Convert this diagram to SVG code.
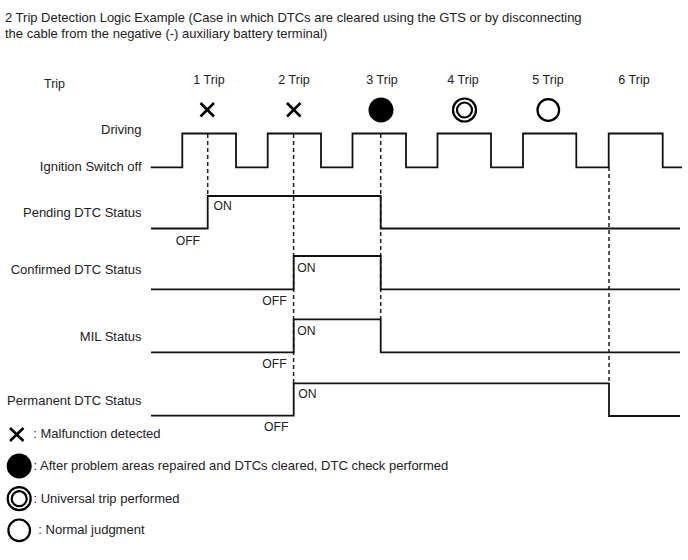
<svg xmlns="http://www.w3.org/2000/svg" width="688" height="560" viewBox="0 0 688 560">
<style>
text{font-family:"Liberation Sans",Arial,sans-serif;fill:#222;}
.t{font-size:13px;}
.l{font-size:13px;text-anchor:end;}
.s{font-size:12.5px;}
.g{font-size:13px;}
.n{font-size:12.2px;}
.c{font-size:12.5px;text-anchor:middle;}
.w{fill:none;stroke:#111;stroke-width:1.8;}
.d{fill:none;stroke:#222;stroke-width:1.5;stroke-dasharray:4 3;}
.x{fill:none;stroke:#000;stroke-width:2.6;}
.o{fill:none;stroke:#000;stroke-width:2.2;}
</style>
<rect width="688" height="560" fill="#fff"/>
<g id="title">
<text class="t" x="5" y="21.5">2 Trip Detection Logic Example (Case in which DTCs are cleared using the GTS or by disconnecting</text>
<text class="t" x="5" y="37.5">the cable from the negative (-) auxiliary battery terminal)</text>
</g>
<g id="labels">
<text class="s" x="44" y="88">Trip</text>
<text class="l" x="141.5" y="134">Driving</text>
<text class="l" x="141.5" y="171">Ignition Switch off</text>
<text class="l" x="141.5" y="216.5">Pending DTC Status</text>
<text class="l" x="141.5" y="273.5">Confirmed DTC Status</text>
<text class="l" x="141.5" y="340.5">MIL Status</text>
<text class="l" x="141.5" y="404.5">Permanent DTC Status</text>
</g>
<g id="trips">
<text class="c" x="209" y="84">1 Trip</text>
<text class="c" x="294" y="84">2 Trip</text>
<text class="c" x="382" y="84">3 Trip</text>
<text class="c" x="463" y="84">4 Trip</text>
<text class="c" x="548" y="84">5 Trip</text>
<text class="c" x="634" y="84">6 Trip</text>
</g>
<g id="symbols">
<path class="x" d="M200.5 103 L214 116.5 M214 103 L200.5 116.5"/>
<path class="x" d="M287 103 L300.5 116.5 M300.5 103 L287 116.5"/>
<circle cx="381" cy="110" r="12.5" fill="#000"/>
<circle class="o" cx="464.5" cy="110" r="11.5"/>
<circle class="o" cx="464.5" cy="110" r="7.5"/>
<circle class="o" cx="548.3" cy="110" r="10.8"/>
</g>
<g id="connectors">
<path class="d" d="M207.7 134 V196"/>
<path class="d" d="M293.6 134 V383"/>
<path class="d" d="M380.7 134 V319"/>
<path class="d" d="M609 167 V383"/>
</g>
<g id="waves">
<path class="w" d="M150.7 167.3 H182.3 V133.5 H236 V167.3 H267.7 V133.5 H321 V167.3 H352.5 V133.5 H406 V167.3 H437.5 V133.5 H491 V167.3 H523 V133.5 H576.3 V167.3 H608.7 V133.5 H662.7 V167.3 H682"/>
<path class="w" d="M151 228.5 H207.7 V196 H380.7 V228.5 H680"/>
<path class="w" d="M151 289.3 H293.7 V256 H380.7 V289.3 H680"/>
<path class="w" d="M151 352.3 H293.7 V319.3 H380.7 V352.3 H680"/>
<path class="w" d="M151 415.7 H293.7 V383.3 H609 V416 H680"/>
</g>
<g id="states">
<text class="n" x="213.5" y="209.5">ON</text>
<text class="n" x="175.7" y="245">OFF</text>
<text class="n" x="297.3" y="272">ON</text>
<text class="n" x="262.3" y="304.5">OFF</text>
<text class="n" x="297.3" y="334.5">ON</text>
<text class="n" x="262.3" y="367.5">OFF</text>
<text class="n" x="298.3" y="397.5">ON</text>
<text class="n" x="264" y="431">OFF</text>
</g>
<g id="legend">
<path class="x" d="M10 428 L23.5 441 M23.5 428 L10 441"/>
<text class="g" x="33.3" y="437.5">: Malfunction detected</text>
<circle cx="19.2" cy="466" r="12.5" fill="#000"/>
<text class="g" x="33.5" y="470">: After problem areas repaired and DTCs cleared, DTC check performed</text>
<circle class="o" cx="19.2" cy="498.7" r="11.5"/>
<circle class="o" cx="19.2" cy="498.7" r="7.5"/>
<text class="g" x="33.5" y="502.7">: Universal trip performed</text>
<circle class="o" cx="19.2" cy="530.3" r="10.8"/>
<text class="g" x="38.3" y="534">: Normal judgment</text>
</g>
</svg>
